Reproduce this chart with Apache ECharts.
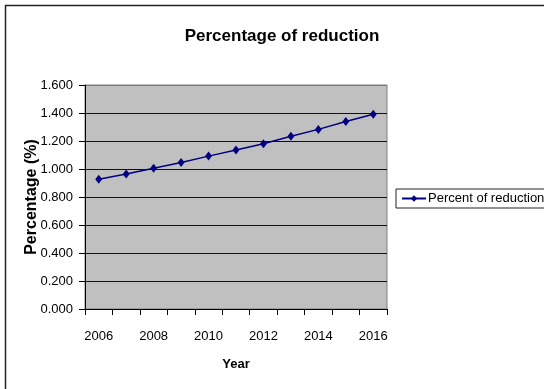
<!DOCTYPE html>
<html>
<head>
<meta charset="utf-8">
<style>
  html, body { margin: 0; padding: 0; background: #fff; }
  #chart { width: 544px; height: 389px; }
</style>
<script src="https://cdn.jsdelivr.net/npm/echarts@6/dist/echarts.min.js"></script>
</head>
<body>
<div id="chart"></div>
<script>
// Yearly percentage of reduction
const years = ['2006', '2007', '2008', '2009', '2010', '2011', '2012', '2013', '2014', '2015', '2016'];
const reduction = [0.926, 0.964, 1.006, 1.047, 1.092, 1.135, 1.180, 1.234, 1.283, 1.339, 1.391];
const seriesName = 'Percent of reduction';
const yTicks = { min: 0, max: 1.6, step: 0.2 };

const FONT = '"Liberation Sans", Arial, sans-serif';
const chart = echarts.init(document.getElementById('chart'), null, { renderer: 'canvas' });

// gridline colours: bottom one sits under the axis, top one blends with the plot border
const gridColors = [];
const nLines = Math.round((yTicks.max - yTicks.min) / yTicks.step) + 1;
for (let i = 0; i < nLines; i++) gridColors.push(i === nLines - 1 ? '#7a7a7a' : '#111111');

chart.setOption({
  animation: false,
  backgroundColor: '#ffffff',
  title: {
    text: 'Percentage of reduction',
    left: 277,
    top: 23,
    textAlign: 'center',
    textStyle: { fontFamily: FONT, fontSize: 17, fontWeight: 'bold', color: '#000' }
  },
  graphic: [{
    type: 'rect',
    shape: { x: 5.5, y: 5.5, width: 700, height: 600 },
    style: { fill: null, stroke: '#222', lineWidth: 1.5 },
    silent: true
  }],
  legend: {
    data: [seriesName],
    left: 396,
    top: 189,
    orient: 'vertical',
    padding: [3, 30, 3, 5],
    itemWidth: 24,
    itemHeight: 8,
    borderColor: '#222',
    borderWidth: 1,
    backgroundColor: '#fff',
    textStyle: { fontFamily: FONT, fontSize: 13, color: '#000', padding: [0, 0, 0, -3] }
  },
  grid: {
    left: 85, right: 157, top: 85, bottom: 80,
    show: true,
    backgroundColor: '#c0c0c0',
    borderColor: '#808080',
    borderWidth: 1
  },
  xAxis: {
    type: 'category',
    data: years,
    boundaryGap: true,
    name: 'Year',
    nameLocation: 'middle',
    nameGap: 49,
    nameTextStyle: { fontFamily: FONT, fontSize: 13, fontWeight: 'bold', color: '#000' },
    axisLine: { lineStyle: { color: '#000', width: 1 } },
    axisTick: { show: true, interval: 0, length: 6, inside: false, lineStyle: { color: '#000' } },
    axisLabel: { interval: 1, margin: 21, fontFamily: FONT, fontSize: 13, color: '#000' },
    splitLine: { show: false }
  },
  yAxis: {
    type: 'value',
    min: yTicks.min,
    max: yTicks.max,
    interval: yTicks.step,
    name: 'Percentage (%)',
    nameLocation: 'middle',
    nameRotate: 90,
    nameGap: 45,
    nameMoveOverlap: false,
    nameTextStyle: { fontFamily: FONT, fontSize: 16, fontWeight: 'bold', color: '#000' },
    axisLine: { show: true, lineStyle: { color: '#000', width: 1 } },
    axisTick: { show: true, length: 6, lineStyle: { color: '#000' } },
    axisLabel: {
      margin: 12,
      fontFamily: FONT, fontSize: 13, color: '#000',
      formatter: v => v.toFixed(3)
    },
    splitLine: { show: true, lineStyle: { color: gridColors, width: 1 } }
  },
  series: [{
    name: seriesName,
    type: 'line',
    data: reduction,
    symbol: 'diamond',
    symbolSize: [7, 9],
    showAllSymbol: true,
    lineStyle: { color: '#000080', width: 1.5 },
    itemStyle: { color: '#000080', borderWidth: 0 },
    z: 5
  }]
});
</script>
</body>
</html>
